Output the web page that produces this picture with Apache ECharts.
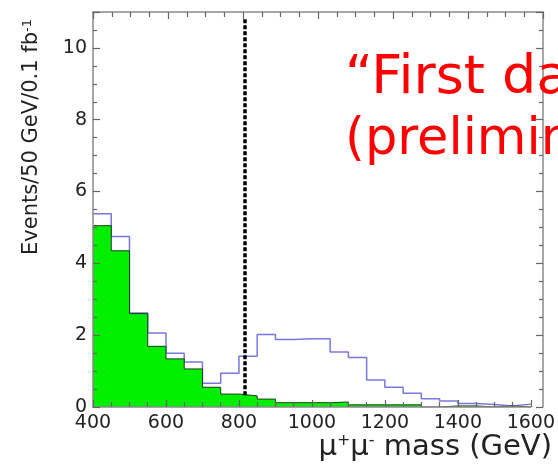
<!DOCTYPE html>
<html>
<head>
<meta charset="utf-8">
<script src="https://cdn.jsdelivr.net/npm/echarts@6/dist/echarts.min.js"></script>
<style>
  html, body { margin: 0; padding: 0; background: #fff; }
  #main { width: 558px; height: 465px; }
</style>
</head>
<body>
<div id="main"></div>
<script>
/* bin edges (GeV), 50 GeV bins */
var binEdges = [400, 450, 500, 550, 600, 650, 700, 750, 800, 850, 900, 950, 1000,
    1050, 1100, 1150, 1200, 1250, 1300, 1350, 1400, 1450, 1500, 1550, 1600];
/* background (green, filled) */
var bkgValues = [5.05, 4.35, 2.6, 1.69, 1.34, 1.06, 0.55, 0.36, 0.31, 0.22, 0.12, 0.12,
    0.12, 0.14, 0.06, 0.06, 0.06, 0.06, 0, 0.03, 0.03, 0, 0.03, 0];
/* signal + background (blue outline) */
var totValues = [5.38, 4.75, 2.62, 2.06, 1.5, 1.25, 0.66, 0.94, 1.41, 2.02, 1.88, 1.9,
    1.9, 1.53, 1.38, 0.75, 0.55, 0.38, 0.23, 0.17, 0.1, 0.07, 0.03, 0.08];
var xTicks = [400, 600, 800, 1000, 1200, 1400, 1600];
var yTicks = [0, 2, 4, 6, 8, 10];
var cutValue = 815;

/* histogram -> step line points (left edges + last right edge) */
function histPoints(vals) {
    var pts = [];
    for (var i = 0; i < vals.length; i++) {
        pts.push([binEdges[i], vals[i]]);
    }
    pts.push([binEdges[binEdges.length - 1], vals[vals.length - 1]]);
    return pts;
}

var frameColor = '#8a8a8a';
var tickColor = '#666';
function plain(v) { return String(v); }

// one x + one y per grid (the frame's top/right sides live in a 2nd grid on the same rect)
function xAxisCfg(gridIdx, pos, showLabel) {
    return {
        type: 'value', gridIndex: gridIdx, position: pos,
        min: xTicks[0], max: xTicks[xTicks.length - 1], interval: 200,
        z: 6,
        axisLine: { show: true, onZero: false, lineStyle: { color: frameColor, width: 1.5 } },
        axisTick: { show: true, inside: true, length: 7, lineStyle: { color: tickColor, width: 1.2 } },
        minorTick: { show: true, splitNumber: 4, length: 5, lineStyle: { color: tickColor, width: 1.2 } },
        splitLine: { show: false },
        axisLabel: { show: showLabel, margin: 7, formatter: plain,
            fontFamily: 'DejaVu Sans', fontSize: 19, color: '#222' }
    };
}
function yAxisCfg(gridIdx, pos, showLabel) {
    return {
        type: 'value', gridIndex: gridIdx, position: pos,
        min: yTicks[0], max: 11, interval: 2,
        z: 6,
        axisLine: { show: true, onZero: false, lineStyle: { color: frameColor, width: 1.5 } },
        axisTick: { show: true, inside: true, length: 7, lineStyle: { color: tickColor, width: 1.2 } },
        minorTick: { show: true, splitNumber: 4, length: 4, lineStyle: { color: tickColor, width: 1.2 } },
        splitLine: { show: false },
        axisLabel: { show: showLabel, margin: 6, showMaxLabel: false, formatter: plain,
            fontFamily: 'DejaVu Sans', fontSize: 19, color: '#222' }
    };
}

var plotRect = { left: 93, right: 15, top: 12, bottom: 58 };

var chart = echarts.init(document.getElementById('main'));
chart.setOption({
    animation: false,
    backgroundColor: '#fff',
    grid: [Object.assign({}, plotRect), Object.assign({}, plotRect)],
    xAxis: [xAxisCfg(0, 'bottom', true), xAxisCfg(1, 'top', false)],
    yAxis: [yAxisCfg(0, 'left', true), yAxisCfg(1, 'right', false)],
    series: [
        {
            name: 'signal+bkg', type: 'line', step: 'end', symbol: 'none',
            xAxisIndex: 0, yAxisIndex: 0,
            data: histPoints(totValues),
            lineStyle: { color: '#7878dc', width: 1.5 },
            z: 2
        },
        {
            name: 'bkg', type: 'line', step: 'end', symbol: 'none',
            xAxisIndex: 0, yAxisIndex: 0,
            data: histPoints(bkgValues),
            lineStyle: { color: '#1f3d1f', width: 1 },
            areaStyle: { color: '#00ee00', opacity: 1, origin: 'start' },
            z: 3,
            markLine: {
                silent: true, symbol: 'none', label: { show: false },
                lineStyle: { color: '#000', width: 3.5, type: [4, 2] },
                data: [[{ coord: [cutValue, 0.33] }, { coord: [cutValue, 10.8] }]]
            }
        }
    ],
    graphic: [
        {
            type: 'text', x: 32, y: 137, rotation: Math.PI / 2,
            style: {
                text: '{a|Events/50 GeV/0.1 fb}{s|-1}',
                align: 'center', verticalAlign: 'middle',
                rich: {
                    a: { fontFamily: 'DejaVu Sans', fontSize: 21, fill: '#222' },
                    s: { fontFamily: 'DejaVu Sans', fontSize: 13, fill: '#222', verticalAlign: 'top' }
                }
            }
        },
        {
            type: 'text', x: 552, y: 447,
            style: {
                text: '{a|μ}{s|+}{a|μ}{s|-}{a| mass (GeV)}',
                align: 'right', verticalAlign: 'middle',
                rich: {
                    a: { fontFamily: 'DejaVu Sans', fontSize: 29, fill: '#222' },
                    s: { fontFamily: 'DejaVu Sans', fontSize: 16, fill: '#222', verticalAlign: 'top' }
                }
            }
        },
        {
            type: 'text', x: 345, y: 79, z: 10,
            style: { text: '“First data', fontFamily: 'DejaVu Sans', fontSize: 54, fill: '#ff0000', verticalAlign: 'middle' }
        },
        {
            type: 'text', x: 345, y: 141, z: 10,
            style: { text: '(preliminary)”', fontFamily: 'DejaVu Sans', fontSize: 51, fill: '#ff0000', verticalAlign: 'middle' }
        }
    ]
});
</script>
</body>
</html>
